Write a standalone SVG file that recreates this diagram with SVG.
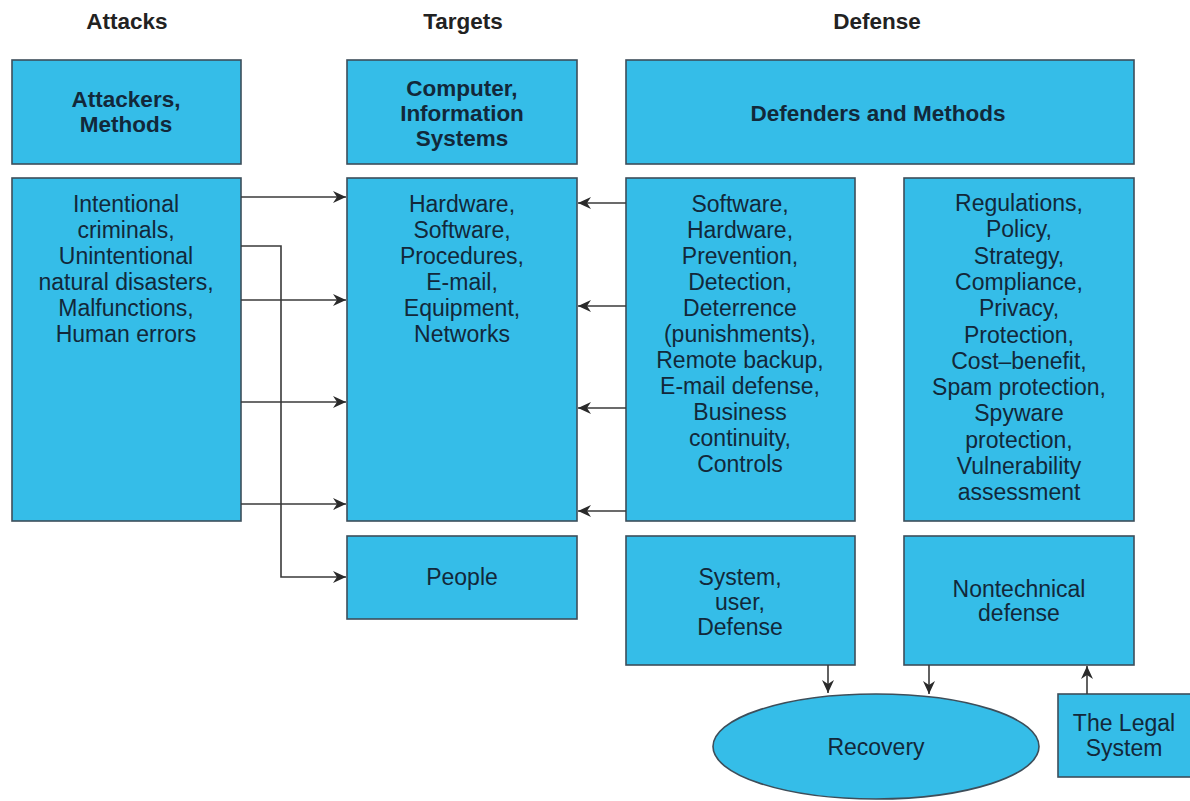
<svg xmlns="http://www.w3.org/2000/svg" width="1190" height="801" viewBox="0 0 1190 801">
<defs>
<style>
.box{fill:#35bde8;stroke:#3d4e5a;stroke-width:1.6}
.t{font-family:"Liberation Sans",Arial,Helvetica,sans-serif;font-size:23px;fill:#12283a;text-anchor:middle}
.b{font-weight:bold;font-size:22.5px}
.h{font-family:"Liberation Sans",Arial,Helvetica,sans-serif;font-size:22.5px;font-weight:bold;fill:#222;text-anchor:middle}
.c{fill:none;stroke:#3a3a3a;stroke-width:1.6}
</style>
<marker id="ah" markerUnits="userSpaceOnUse" markerWidth="14" markerHeight="12" refX="13" refY="6" orient="auto">
<path d="M0,0 L13,6 L0,12 L4,6 z" fill="#2a2a2a"/>
</marker>
</defs>
<rect width="1190" height="801" fill="#fff"/>
<g id="headings">
<text class="h" x="127" y="29">Attacks</text>
<text class="h" x="463" y="29">Targets</text>
<text class="h" x="877" y="29">Defense</text>
</g>
<g id="attackers">
<rect class="box" x="12" y="60" width="229" height="104"/>
<text class="t b" x="126" y="107">Attackers,</text>
<text class="t b" x="126" y="132">Methods</text>
</g>
<g id="computer">
<rect class="box" x="347" y="60" width="230" height="104"/>
<text class="t b" x="462" y="96">Computer,</text>
<text class="t b" x="462" y="121">Information</text>
<text class="t b" x="462" y="146">Systems</text>
</g>
<g id="defenders">
<rect class="box" x="626" y="60" width="508" height="104"/>
<text class="t b" x="878" y="121">Defenders and Methods</text>
</g>
<g id="intentional">
<rect class="box" x="12" y="178" width="229" height="343"/>
<text class="t" x="126" y="212">Intentional</text>
<text class="t" x="126" y="238">criminals,</text>
<text class="t" x="126" y="264">Unintentional</text>
<text class="t" x="126" y="290">natural disasters,</text>
<text class="t" x="126" y="316">Malfunctions,</text>
<text class="t" x="126" y="342">Human errors</text>
</g>
<g id="hardware">
<rect class="box" x="347" y="178" width="230" height="343"/>
<text class="t" x="462" y="212">Hardware,</text>
<text class="t" x="462" y="238">Software,</text>
<text class="t" x="462" y="264">Procedures,</text>
<text class="t" x="462" y="290">E-mail,</text>
<text class="t" x="462" y="316">Equipment,</text>
<text class="t" x="462" y="342">Networks</text>
</g>
<g id="people">
<rect class="box" x="347" y="536" width="230" height="83"/>
<text class="t" x="462" y="585">People</text>
</g>
<g id="software">
<rect class="box" x="626" y="178" width="229" height="343"/>
<text class="t" x="740" y="212">Software,</text>
<text class="t" x="740" y="238">Hardware,</text>
<text class="t" x="740" y="264">Prevention,</text>
<text class="t" x="740" y="290">Detection,</text>
<text class="t" x="740" y="316">Deterrence</text>
<text class="t" x="740" y="342">(punishments),</text>
<text class="t" x="740" y="368">Remote backup,</text>
<text class="t" x="740" y="394">E-mail defense,</text>
<text class="t" x="740" y="420">Business</text>
<text class="t" x="740" y="446">continuity,</text>
<text class="t" x="740" y="472">Controls</text>
</g>
<g id="regulations">
<rect class="box" x="904" y="178" width="230" height="343"/>
<text class="t" x="1019" y="211">Regulations,</text>
<text class="t" x="1019" y="237.3">Policy,</text>
<text class="t" x="1019" y="263.6">Strategy,</text>
<text class="t" x="1019" y="289.9">Compliance,</text>
<text class="t" x="1019" y="316.2">Privacy,</text>
<text class="t" x="1019" y="342.5">Protection,</text>
<text class="t" x="1019" y="368.8">Cost–benefit,</text>
<text class="t" x="1019" y="395.1">Spam protection,</text>
<text class="t" x="1019" y="421.4">Spyware</text>
<text class="t" x="1019" y="447.7">protection,</text>
<text class="t" x="1019" y="474">Vulnerability</text>
<text class="t" x="1019" y="500.3">assessment</text>
</g>
<g id="system-user">
<rect class="box" x="626" y="536" width="229" height="129"/>
<text class="t" x="740" y="585">System,</text>
<text class="t" x="740" y="610">user,</text>
<text class="t" x="740" y="635">Defense</text>
</g>
<g id="nontechnical">
<rect class="box" x="904" y="536" width="230" height="129"/>
<text class="t" x="1019" y="597">Nontechnical</text>
<text class="t" x="1019" y="621">defense</text>
</g>
<g id="recovery">
<ellipse class="box" cx="876" cy="746.5" rx="163" ry="52.5"/>
<text class="t" x="876" y="755">Recovery</text>
</g>
<g id="legal">
<rect class="box" x="1058" y="694" width="140" height="83"/>
<text class="t" x="1124" y="731">The Legal</text>
<text class="t" x="1124" y="756">System</text>
</g>
<g id="connectors">
<line class="c" x1="241" y1="197" x2="346" y2="197" marker-end="url(#ah)"/>
<line class="c" x1="241" y1="300" x2="346" y2="300" marker-end="url(#ah)"/>
<line class="c" x1="241" y1="402" x2="346" y2="402" marker-end="url(#ah)"/>
<line class="c" x1="241" y1="504" x2="346" y2="504" marker-end="url(#ah)"/>
<path class="c" d="M241,246 H281 V577 H346" marker-end="url(#ah)"/>
<line class="c" x1="626" y1="203" x2="578" y2="203" marker-end="url(#ah)"/>
<line class="c" x1="626" y1="306" x2="578" y2="306" marker-end="url(#ah)"/>
<line class="c" x1="626" y1="408" x2="578" y2="408" marker-end="url(#ah)"/>
<line class="c" x1="626" y1="511" x2="578" y2="511" marker-end="url(#ah)"/>
<line class="c" x1="828" y1="665" x2="828" y2="693" marker-end="url(#ah)"/>
<line class="c" x1="929" y1="665" x2="929" y2="694" marker-end="url(#ah)"/>
<line class="c" x1="1087" y1="694" x2="1087" y2="666" marker-end="url(#ah)"/>
</g>
</svg>
